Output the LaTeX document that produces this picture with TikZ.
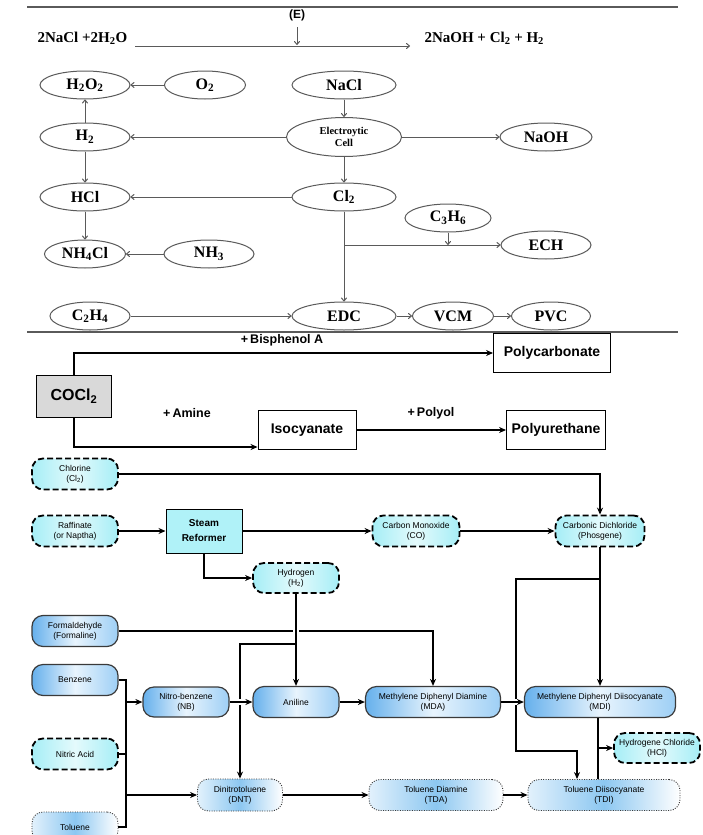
\documentclass[tikz,border=0pt]{standalone}
\usepackage{fontspec}
\setmainfont{Liberation Serif}
\newfontfamily\sansf{Liberation Sans}
\usetikzlibrary{arrows.meta,shapes.geometric,calc}
\definecolor{elgray}{HTML}{5A5A5A}
\definecolor{cyanL}{HTML}{A6EEF6}
\definecolor{cyanM}{HTML}{E4FAFC}
\definecolor{srcyan}{HTML}{B0F2F8}
\definecolor{blueL}{HTML}{66B0EC}
\definecolor{blueM}{HTML}{E8F4FD}
\definecolor{blueR}{HTML}{9ECFF5}
\definecolor{dotL}{HTML}{E2F1FC}
\definecolor{dotM}{HTML}{8CC7F1}
\definecolor{bdr}{HTML}{3A3A3A}
\begin{document}
\begin{tikzpicture}[x=1pt,y=-1pt,
  el/.style={ellipse, draw=elgray, line width=1pt, minimum height=28pt, inner sep=0pt,
    font=\fontsize{16}{17}\selectfont\bfseries},
  tarr/.style={draw=elgray, line width=1pt, -{To[length=4pt,width=6pt]}},
  sepline/.style={draw=elgray, line width=1.6pt},
  mbox/.style={draw, line width=0.9pt, inner sep=0pt, minimum height=39pt,
    font=\sansf\bfseries\fontsize{14}{15}\selectfont},
  marr/.style={line width=1.9pt, -{Stealth[length=7pt,width=6pt]}},
  mlab/.style={font=\sansf\bfseries\fontsize{12.5}{13}\selectfont},
  btext/.style={font=\sansf\fontsize{8.5}{9.8}\selectfont, align=center, inner sep=1pt},
  dbox/.style={btext, rounded corners=11pt, draw=black, line width=1.8pt,
    dash pattern=on 6pt off 3pt, left color=cyanL, right color=cyanL, middle color=cyanM,
    minimum width=86pt, minimum height=31pt},
  bbox/.style={btext, rounded corners=11pt, draw=bdr, line width=1.2pt,
    left color=blueL, right color=blueR, middle color=blueM,
    minimum width=86pt, minimum height=31pt},
  pbox/.style={btext, rounded corners=11pt, draw=bdr, line width=0.9pt,
    dash pattern=on 1pt off 1.4pt, left color=dotL, right color=white, middle color=dotM,
    minimum width=86pt, minimum height=31pt},
  srbox/.style={draw=black, line width=1pt, fill=srcyan, minimum width=76pt, minimum height=44pt,
    align=center, font=\sansf\bfseries\fontsize{10}{11}\selectfont},
  bline/.style={line width=1.6pt},
  barr/.style={line width=1.6pt, -{Stealth[length=7pt,width=6pt]}},
  halo/.style={draw=white, line width=6pt, shorten <=4pt, shorten >=4pt}
]
\useasboundingbox (0,0) rectangle (703,835);

% ---------------- top section ----------------
\coordinate (l1a) at (27,7); \coordinate (l1b) at (678,7);
\draw[sepline] (l1a) -- (l1b);
\node[font=\sansf\bfseries\fontsize{12}{13}\selectfont] (E) at (297,15) {(E)};
\node[anchor=west, font=\fontsize{15}{16}\selectfont\bfseries] (lhs) at (34,38) {2NaCl +2H\textsubscript{2}O};
\node[anchor=west, font=\fontsize{15}{16}\selectfont\bfseries] (rhs) at (421,38) {2NaOH + Cl\textsubscript{2} + H\textsubscript{2}};
\coordinate (ea) at (135,46); \coordinate (eb) at (410,46);
\coordinate (et) at (297,27); \coordinate (ee) at (297,45);
\draw[tarr] (ea) -- (eb);
\draw[tarr] (et) -- (ee);

\node[el, minimum width=90pt] (h2o2) at (85,85) {H\textsubscript{2}O\textsubscript{2}};
\node[el, minimum width=81pt] (o2) at (205,85) {O\textsubscript{2}};
\node[el, minimum width=104pt] (nacl) at (344,85) {NaCl};
\node[el, minimum width=90pt] (h2) at (85,137) {H\textsubscript{2}};
\node[el, minimum width=115pt, minimum height=39pt, align=center,
      font=\fontsize{10.5}{12}\selectfont\bfseries] (cell) at (344,137) {Electroytic\\Cell};
\node[el, minimum width=92pt] (naoh) at (546,137) {NaOH};
\node[el, minimum width=90pt] (hcl) at (85,197) {HCl};
\node[el, minimum width=104pt] (cl2) at (344,197) {Cl\textsubscript{2}};
\node[el, minimum width=86pt] (c3h6) at (448,218) {C\textsubscript{3}H\textsubscript{6}};
\node[el, minimum width=90pt] (ech) at (546,245) {ECH};
\node[el, minimum width=81pt] (nh4cl) at (85,254) {NH\textsubscript{4}Cl};
\node[el, minimum width=90pt] (nh3) at (209,254) {NH\textsubscript{3}};
\node[el, minimum width=80pt] (c2h4) at (90,316) {C\textsubscript{2}H\textsubscript{4}};
\node[el, minimum width=104pt] (edc) at (344,316) {EDC};
\node[el, minimum width=81pt] (vcm) at (453,316) {VCM};
\node[el, minimum width=79pt] (pvc) at (551,316) {PVC};

\draw[tarr] (o2) -- (h2o2);
\draw[tarr] (nacl) -- (cell);
\draw[tarr] (cell) -- (h2);
\draw[tarr] (cell) -- (naoh);
\draw[tarr] (h2) -- (h2o2);
\draw[tarr] (h2) -- (hcl);
\draw[tarr] (cell) -- (cl2);
\draw[tarr] (cl2) -- (hcl);
\draw[tarr] (hcl) -- (nh4cl);
\draw[tarr] (nh3) -- (nh4cl);
\draw[tarr] (cl2) -- (edc);
\coordinate (br) at (cl2.south |- ech.west);
\draw[tarr] (br) -- (ech.west);
\draw[tarr] (c3h6.south) -- (c3h6.south |- ech.west);
\draw[tarr] (c2h4) -- (edc);
\draw[tarr] (edc) -- (vcm);
\draw[tarr] (vcm) -- (pvc);

\coordinate (l2a) at (27,332); \coordinate (l2b) at (678,332);
\draw[sepline] (l2a) -- (l2b);

% ---------------- middle section ----------------
\node[mbox, minimum width=117pt] (pc) at (552,353) {Polycarbonate};
\node[mbox, fill=gray!30, minimum width=75pt, minimum height=42pt,
      font=\sansf\bfseries\fontsize{16}{17}\selectfont] (cocl) at (74,396) {COCl\textsubscript{2}};
\node[mbox, minimum width=98pt] (iso) at (307,430) {Isocyanate};
\node[mbox, minimum width=99pt] (pu) at (556,430) {Polyurethane};
\node[mlab] (lb) at (282,340) {+\,Bisphenol A};
\node[mlab] (la) at (187,413) {+\,Amine};
\node[mlab] (lp) at (431,413) {+\,Polyol};
\draw[marr] (cocl.north) |- (pc.west);
\coordinate (isoin) at ($(iso.west)+(0,17)$);
\draw[marr] (cocl.south) |- (isoin);
\draw[marr] (iso.east) -- (pu.west);

% ---------------- bottom section ----------------
\node[dbox] (chl) at (75,474) {Chlorine\\(Cl\textsubscript{2})};
\node[dbox] (raf) at (75,531) {Raffinate\\(or Naptha)};
\node[srbox] (sr) at (204,531) {Steam\\[4pt]Reformer};
\node[dbox, minimum width=87pt] (co) at (416,531) {Carbon Monoxide\\(CO)};
\node[dbox, minimum width=89pt] (phos) at (600,531) {Carbonic Dichloride\\(Phosgene)};
\node[dbox, minimum height=30pt] (hyd) at (296,578) {Hydrogen\\(H\textsubscript{2})};
\node[bbox] (form) at (75,631) {Formaldehyde\\(Formaline)};
\node[bbox] (benz) at (75,680) {Benzene};
\node[bbox, minimum height=30pt] (nb) at (186,702) {Nitro-benzene\\(NB)};
\node[bbox] (anil) at (296,702) {Aniline};
\node[bbox, minimum width=135pt] (mda) at (433,702) {Methylene Diphenyl Diamine\\(MDA)};
\node[bbox, minimum width=151pt] (mdi) at (600,702) {Methylene Diphenyl Diisocyanate\\(MDI)};
\node[dbox, minimum height=30pt] (hcl2) at (657,748) {Hydrogene Chloride\\(HCl)};
\node[dbox] (nit) at (75,754) {Nitric Acid};
\node[pbox, minimum width=85pt, minimum height=32pt] (dnt) at (240,795) {Dinitrotoluene\\(DNT)};
\node[pbox, minimum width=134pt] (tda) at (436,795) {Toluene Diamine\\(TDA)};
\node[pbox, minimum width=152pt] (tdi) at (604,795) {Toluene Diisocyanate\\(TDI)};
\node[pbox, minimum height=30pt] (tol) at (75,827) {Toluene};

% connectors
\draw[barr] (chl.east) -| (phos.north);
\draw[barr] (raf.east) -- (sr.west);
\draw[barr] (sr.east) -- (co.west);
\draw[barr] (co.east) -- (phos.west);
\draw[barr] (sr.south) |- (hyd.west);
% formaldehyde line, crossed by the hydrogen line
\draw[barr] (form.east) -| (mda.north);
\draw[halo] (hyd.south) -- (anil.north);
\draw[barr] (hyd.south) -- (anil.north);
\coordinate (hb) at (296,644);
\draw[barr] (hb) -| (dnt.north);
% benzene / nitric acid / toluene bus
\coordinate (busx) at (126,0);
\draw[bline] (benz.east) -| (busx |- tol.east) -- (tol.east);
\draw[bline] (nit.east) -- (nit.east -| busx);
\draw[barr] (nb.west -| busx) -- (nb.west);
\draw[barr] (dnt.west -| busx) -- (dnt.west);
\draw[halo] (nb.east) -- (anil.west);
\draw[barr] (nb.east) -- (anil.west);
\draw[barr] (anil.east) -- (mda.west);
% phosgene to MDI and TDI
\draw[barr] (phos.south) -- (mdi.north);
\coordinate (pb) at (600,579);
\coordinate (pl) at (516,751);
\coordinate (tk) at (577,0);
\draw[barr] (pb) -| (pl) -| (tk |- tdi.north);
\draw[halo] (mda.east) -- (mdi.west);
\draw[barr] (mda.east) -- (mdi.west);
\coordinate (mx) at (598,0);
\draw[bline] (mx |- mdi.south) -- (mx |- tdi.north);
\draw[barr] (mx |- hcl2.west) -- (hcl2.west);
\draw[barr] (dnt.east) -- (tda.west);
\draw[barr] (tda.east) -- (tdi.west);
\end{tikzpicture}
\end{document}
